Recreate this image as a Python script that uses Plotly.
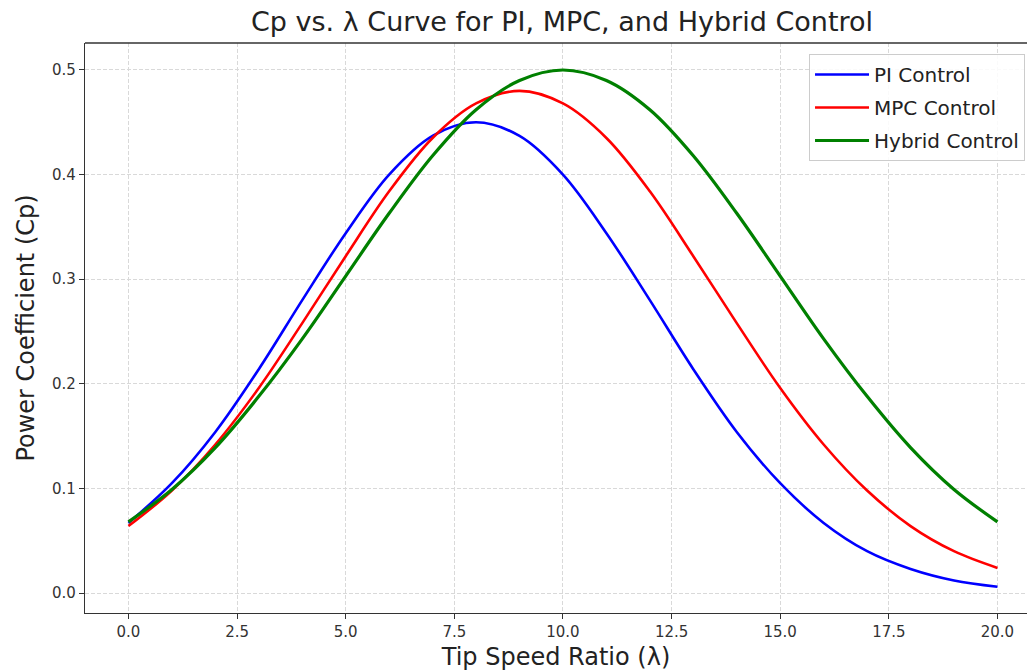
import plotly.graph_objects as go

tsr = [0, 1, 2, 3, 4, 5, 6, 7, 8, 9, 10, 11, 12, 13, 14, 15, 16, 17, 18, 19, 20]
cp_pi = [0.067, 0.105, 0.154, 0.214, 0.280, 0.344, 0.400, 0.437, 0.450, 0.437, 0.400,
         0.344, 0.280, 0.214, 0.154, 0.105, 0.067, 0.040, 0.023, 0.012, 0.006]
cp_mpc = [0.064, 0.098, 0.142, 0.196, 0.258, 0.322, 0.384, 0.435, 0.468, 0.480, 0.468,
          0.435, 0.384, 0.322, 0.258, 0.196, 0.142, 0.098, 0.064, 0.040, 0.024]
cp_hybrid = [0.068, 0.099, 0.139, 0.188, 0.243, 0.303, 0.363, 0.418, 0.462, 0.490, 0.500,
             0.490, 0.462, 0.418, 0.363, 0.303, 0.243, 0.188, 0.139, 0.099, 0.068]
x_ticks = [0, 2.5, 5, 7.5, 10, 12.5, 15, 17.5, 20]
y_ticks = [0.0, 0.1, 0.2, 0.3, 0.4, 0.5]

series = [
    ("PI Control", cp_pi, "#0000ff", 2.6),
    ("MPC Control", cp_mpc, "#ff0000", 2.6),
    ("Hybrid Control", cp_hybrid, "#008000", 3.2),
]

fig = go.Figure()
for i, (name, ys, color, w) in enumerate(series):
    fig.add_trace(go.Scatter(
        x=tsr, y=ys, name=name, mode="lines",
        line=dict(color=color, width=w, shape="spline", smoothing=1.0),
        legendgroup=f"g{i}",
    ))

axis_common = dict(
    showline=True, linecolor="#333333", linewidth=1.3, mirror=False,
    ticks="outside", ticklen=5, tickwidth=1, tickcolor="#333333",
    showgrid=True, gridcolor="#d9d9d9", griddash="4px,2px", gridwidth=1,
    zeroline=False,
    tickfont=dict(family="DejaVu Sans", size=15, color="#333333"),
)

fig.add_shape(type="line", xref="paper", yref="paper", x0=0, x1=1, y0=1, y1=1,
              line=dict(color="#333333", width=1.3))

fig.update_layout(
    width=1027, height=671,
    margin=dict(l=85, r=0, t=43, b=58),
    paper_bgcolor="white", plot_bgcolor="white",
    font=dict(family="DejaVu Sans", color="#222222"),
    title=dict(text="Cp vs. λ Curve for PI, MPC, and Hybrid Control",
               x=562 / 1027, xref="container", xanchor="center",
               y=1 - 22 / 671, yref="container", yanchor="middle",
               font=dict(family="DejaVu Sans", size=27, color="#222222")),
    xaxis=dict(axis_common, range=[-1, 20.68], tickvals=x_ticks,
               ticktext=[f"{v:.1f}" for v in x_ticks],
               title=dict(text="Tip Speed Ratio (λ)", standoff=10,
                          font=dict(family="DejaVu Sans", size=24, color="#222222"))),
    yaxis=dict(axis_common, range=[-0.0191, 0.5258], tickvals=y_ticks,
               ticktext=[f"{v:.1f}" for v in y_ticks],
               title=dict(text="Power Coefficient (Cp)", standoff=10,
                          font=dict(family="DejaVu Sans", size=24, color="#222222"))),
    legend=dict(x=0.7686, y=0.9807, xanchor="left", yanchor="top",
                bgcolor="rgba(255,255,255,0.85)", bordercolor="#cccccc", borderwidth=1,
                font=dict(family="DejaVu Sans", size=20, color="#222222"),
                tracegroupgap=4, itemwidth=54),
    showlegend=True,
)

fig.write_html("out.html")
